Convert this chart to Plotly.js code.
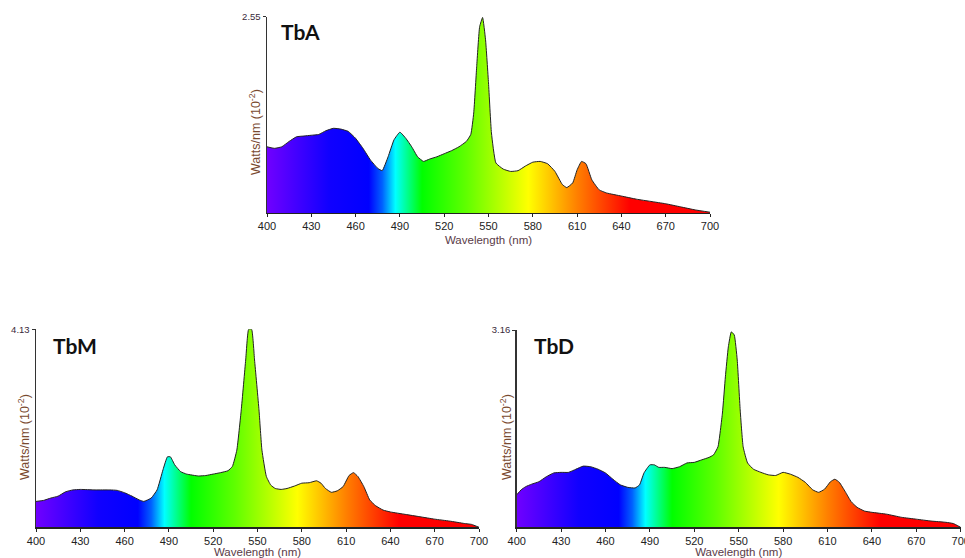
<!DOCTYPE html>
<html>
<head>
<meta charset="utf-8">
<script src="https://cdn.plot.ly/plotly-3.0.1.min.js"></script>
<style>html,body{margin:0;padding:0;background:#fff;}#chart{width:965px;height:558px;}</style>
</head>
<body>
<div id="chart"></div>
<script>
// ---- Data (wavelength nm, Watts/nm x10^-2) ----
const tbA_wl = [400,405,410,415,420,425,430,435,440,445,450,455,460,465,470,475,478,482,486,490,494,498,502,506,510,515,520,525,530,535,538,540,542,544,546,548,550,552,555,560,565,570,575,580,585,590,595,600,603,607,610,613,616,620,625,630,640,650,660,670,680,690,700];
const tbA_val = [0.86,0.84,0.86,0.93,0.99,1.00,1.01,1.02,1.07,1.10,1.09,1.06,0.97,0.84,0.69,0.58,0.55,0.73,0.95,1.05,0.97,0.86,0.73,0.67,0.70,0.73,0.77,0.81,0.86,0.93,1.02,1.30,1.90,2.42,2.54,2.25,1.69,1.04,0.65,0.57,0.54,0.55,0.61,0.66,0.67,0.64,0.54,0.37,0.33,0.39,0.56,0.67,0.64,0.43,0.30,0.26,0.22,0.18,0.15,0.12,0.08,0.04,0.01];

const tbM_wl = [400,405,410,415,420,425,430,440,450,455,460,465,470,473,478,482,486,489,491,494,498,502,510,515,520,525,530,533,536,539,542,544,546,548,551,553,556,559,562,566,570,575,580,585,590,593,596,600,604,608,612,615,618,622,626,630,635,640,650,660,670,680,690,695,700];
const tbM_val = [0.54,0.56,0.61,0.65,0.74,0.78,0.79,0.78,0.78,0.77,0.72,0.65,0.57,0.54,0.61,0.78,1.20,1.47,1.47,1.30,1.16,1.11,1.07,1.08,1.11,1.14,1.18,1.27,1.61,2.45,3.49,4.13,4.13,3.49,2.45,1.61,1.06,0.88,0.81,0.79,0.81,0.86,0.92,0.93,0.97,0.92,0.81,0.73,0.76,0.85,1.08,1.14,1.06,0.85,0.57,0.45,0.36,0.32,0.27,0.22,0.17,0.13,0.08,0.06,0.00];

const tbD_wl = [400,403,406,410,415,420,425,430,435,440,445,450,455,460,465,470,475,480,483,486,490,493,496,500,505,510,515,520,525,530,533,536,539,541,543,545,547,549,551,553,556,560,565,570,575,580,585,590,595,600,604,608,612,615,618,622,626,630,635,640,650,660,670,680,690,695,700];
const tbD_val = [0.52,0.60,0.65,0.69,0.73,0.81,0.87,0.88,0.88,0.93,0.98,0.97,0.93,0.87,0.77,0.68,0.64,0.63,0.68,0.87,1.00,1.00,0.96,0.96,0.94,0.97,1.03,1.04,1.08,1.12,1.16,1.29,1.83,2.41,2.89,3.13,3.08,2.68,1.88,1.29,1.03,0.93,0.88,0.84,0.83,0.88,0.85,0.80,0.72,0.60,0.56,0.61,0.73,0.77,0.72,0.57,0.41,0.32,0.26,0.24,0.21,0.16,0.13,0.10,0.08,0.06,0.00];

const panelNames = ['TbA','TbM','TbD'];
const yMax = [2.55, 4.13, 3.16];
const xTicks = [400,430,460,490,520,550,580,610,640,670,700];

// ---- Styling ----
const spectrum = [
  [0.00,'#7000ff'],[0.14,'#1000ff'],[0.23,'#0000ff'],[0.26,'#0060ff'],[0.29,'#00ffff'],
  [0.35,'#00ff00'],[0.45,'#60ff00'],[0.59,'#ffff00'],[0.70,'#ff8000'],[0.82,'#ff0000'],[1.00,'#ff0000']
];
const series = [[tbA_wl,tbA_val],[tbM_wl,tbM_val],[tbD_wl,tbD_val]];
const axisSuffix = ['','2','3'];
const traces = series.map((s,i)=>({
  type:'scatter', mode:'lines', x:s[0], y:s[1],
  xaxis:'x'+axisSuffix[i], yaxis:'y'+axisSuffix[i],
  line:{color:'#222', width:1, shape:'spline', smoothing:0.4},
  fill:'tozeroy',
  fillgradient:{type:'horizontal', colorscale:spectrum},
  hoverinfo:'x+y', showlegend:false
}));

const W=965, H=558;
// pixel boxes: [left,right,top,bottom]
const boxes = [[267,710,16.7,213],[36,479,329.3,527.3],[516.7,960.7,330,527.3]];
const layout = {
  width:W, height:H, margin:{l:0,r:0,t:0,b:0},
  paper_bgcolor:'#fff', plot_bgcolor:'rgba(0,0,0,0)',
  font:{family:'Liberation Sans, Arial, sans-serif', color:'#222', size:11},
  annotations:[], showlegend:false
};
boxes.forEach((b,i)=>{
  const xa = {
    domain:[b[0]/W, b[1]/W], range:[400,700], tickvals:xTicks, ticktext:xTicks.map(String),
    showline:true, linecolor:'#222', linewidth:1.2, ticks:'outside', ticklen:3, tickcolor:'#222',
    showgrid:false, zeroline:false, tickfont:{size:11, color:'#222'}, ticklabeloverflow:'allow',
    title:{text:'Wavelength (nm)', font:{size:11.5, color:'#5a3b48'}, standoff:4},
    anchor:'y'+axisSuffix[i], fixedrange:true
  };
  const ya = {
    domain:[(H-b[3])/H, (H-b[2])/H], range:[0,yMax[i]], tickvals:[yMax[i]], ticktext:[yMax[i].toFixed(2)],
    showline:true, linecolor:'#333', linewidth:1.5, ticks:'outside', ticklen:3, tickcolor:'#333',
    showgrid:false, zeroline:false, tickfont:{size:9.5, color:'#3a2a3a'}, ticklabeloverflow:'allow',
    anchor:'x'+axisSuffix[i], fixedrange:true
  };
  layout['xaxis'+axisSuffix[i]] = xa;
  layout['yaxis'+axisSuffix[i]] = ya;
});
// y-axis titles (placed lower than centre, as in the reference)
const yTitlePos = [[255,132],[24,437],[506,437]];
yTitlePos.forEach(p=>{
  layout.annotations.push({xref:'paper', yref:'paper', x:p[0]/W, y:(H-p[1])/H, xanchor:'center', yanchor:'middle',
    text:'Watts/nm (10<sup>-2</sup>)', textangle:-90, showarrow:false, font:{size:12.5, color:'#7a4a30'}});
});
// panel labels
const labelPos = [[279,31],[51,345],[532,345]];
labelPos.forEach((p,i)=>{
  layout.annotations.push({xref:'paper', yref:'paper', x:p[0]/W, y:(H-p[1])/H, xanchor:'left', yanchor:'middle',
    text:'<b>'+panelNames[i]+'</b>', showarrow:false, font:{size:21, color:'#111', family:'Lato, Open Sans, sans-serif'}});
});

Plotly.newPlot('chart', traces, layout, {displayModeBar:false, staticPlot:true});
</script>
</body>
</html>
